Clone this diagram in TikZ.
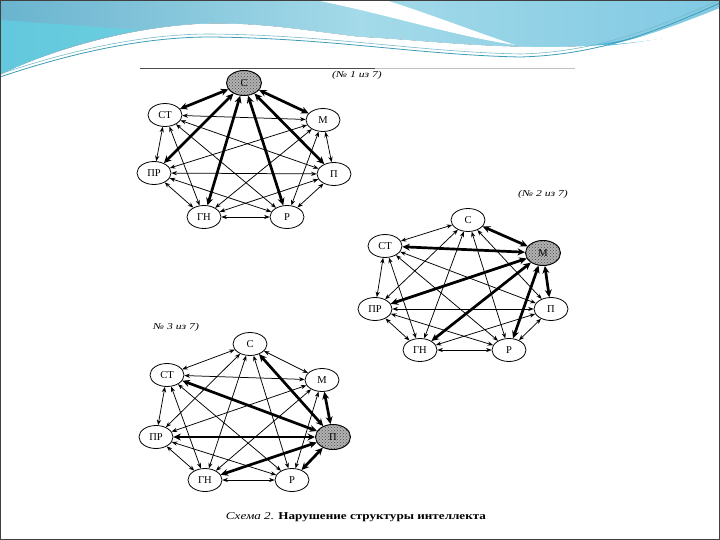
\documentclass[tikz,border=0pt]{standalone}
\usepackage{fontspec}
\setmainfont{Liberation Serif}
\usepackage{graphicx}
\usetikzlibrary{shapes.geometric,arrows.meta,patterns}
\definecolor{bandA}{HTML}{6AB4CF}
\definecolor{bandB}{HTML}{A4DAE9}
\definecolor{bandC}{HTML}{80C9E3}
\definecolor{cyanL}{HTML}{5ED6E6}
\definecolor{tealL}{HTML}{3C9DB4}
\definecolor{brightB}{HTML}{4DB6DC}
\begin{document}
\begin{tikzpicture}[x=1pt,y=-1pt,
 vx/.style={ellipse,draw,line width=0.8pt,fill=white,minimum width=34pt,minimum height=23pt,inner sep=0pt,font=\fontsize{10.5}{11}\selectfont},
 hub/.style={fill=gray!60,postaction={pattern=crosshatch dots,pattern color=black!70},line width=1pt,minimum width=35pt,minimum height=25pt},
 te/.style={<->,line width=0.75pt,>={Stealth[length=5.5pt,width=4.2pt]}},
 tk/.style={<->,line width=2.7pt,>={Stealth[length=7.5pt,width=7pt]}},
 lbl/.style={font=\itshape\fontsize{9}{10}\selectfont}]
\useasboundingbox (0,0) rectangle (720,540);
\fill[white] (0,0) rectangle (720,540);
% top band
\fill[left color=bandA,right color=bandC,middle color=bandB]
 (0,0) -- (720,0) -- (720,23) .. controls (680,35) and (640,45) .. (560,47)
 .. controls (480,48) and (420,40) .. (360,37) .. controls (300,30) and (260,22) .. (200,24)
 .. controls (120,28) and (40,55) .. (0,75) -- cycle;
\fill[cyanL,opacity=0.6] (0,75) .. controls (40,55) and (90,38) .. (140,30) -- (0,20) -- cycle;
\fill[white] (315,0) -- (385,0) .. controls (430,14) and (470,30) .. (515,45)
 .. controls (450,35) and (390,15) .. (315,0) -- cycle;
\fill[brightB] (540,50) .. controls (620,46) and (680,28) .. (720,10) -- (720,24)
 .. controls (680,36) and (630,47) .. (540,50) -- cycle;
\fill[white] (0,78) .. controls (80,50) and (150,35) .. (210,35) .. controls (330,36) and (420,52) .. (520,55)
 .. controls (600,55) and (660,32) .. (720,8) -- (720,26) .. controls (680,36) and (640,45) .. (560,47)
 .. controls (480,48) and (420,40) .. (360,37) .. controls (300,30) and (260,22) .. (200,24)
 .. controls (120,28) and (40,55) .. (0,75) -- cycle;
\draw[tealL,line width=0.8pt] (0,77) .. controls (80,50) and (150,37) .. (210,37) .. controls (330,38) and (420,55) .. (520,57) .. controls (600,55) and (660,30) .. (720,3);
\draw[tealL!70,line width=0.6pt] (0,74) .. controls (80,47) and (150,34) .. (210,34) .. controls (330,35) and (420,52) .. (520,54) .. controls (600,52) and (660,26) .. (720,0);
% slide border
\draw[black!75,line width=1.2pt] (0.6,0.6) rectangle (719.4,539.4);
% page top rule
\draw[black!70,line width=0.6pt] (140,68) -- (375,68);
\draw[black!25,line width=0.6pt] (375,68) -- (575,68);

% ---------- graph 1 ----------
\node[lbl,xscale=1.3] (l1) at (357,75) {(№ 1 из 7)};
\node[vx,hub] (aC) at (244,83) {С};
\node[vx] (aST) at (165,115) {СТ};
\node[vx] (aM) at (323,120) {М};
\node[vx] (aPR) at (154,173) {ПР};
\node[vx] (aP) at (334,174) {П};
\node[vx] (aGN) at (204,217) {ГН};
\node[vx] (aR) at (287,217) {Р};
\foreach \u/\v in {aST/aM,aST/aPR,aST/aP,aST/aGN,aST/aR,aM/aPR,aM/aP,aM/aGN,aM/aR,aPR/aP,aPR/aGN,aPR/aR,aP/aGN,aP/aR,aGN/aR}
  \draw[te] (\u) -- (\v);
\foreach \v in {aST,aM,aPR,aP,aGN,aR}
  \draw[tk] (aC) -- (\v);

% ---------- graph 2 ----------
\node[lbl,xscale=1.3] (l2) at (543,194) {(№ 2 из 7)};
\node[vx] (bC) at (468,220) {С};
\node[vx] (bST) at (385,246) {СТ};
\node[vx,hub] (bM) at (543,253) {М};
\node[vx] (bPR) at (375,309) {ПР};
\node[vx] (bP) at (551,309) {П};
\node[vx] (bGN) at (420,350) {ГН};
\node[vx] (bR) at (509,350) {Р};
\foreach \u/\v in {bC/bST,bC/bPR,bC/bP,bC/bGN,bC/bR,bST/bPR,bST/bP,bST/bGN,bST/bR,bPR/bP,bPR/bGN,bPR/bR,bP/bGN,bP/bR,bGN/bR}
  \draw[te] (\u) -- (\v);
\foreach \v in {bC,bST,bPR,bP,bGN,bR}
  \draw[tk] (bM) -- (\v);

% ---------- graph 3 ----------
\node[lbl,xscale=1.3] (l3) at (176,327) {№ 3 из 7)};
\node[vx] (cC) at (250,344) {С};
\node[vx] (cST) at (167,375) {СТ};
\node[vx] (cM) at (322,380) {М};
\node[vx] (cPR) at (156,437) {ПР};
\node[vx,hub] (cP) at (333,437) {П};
\node[vx] (cGN) at (205,480) {ГН};
\node[vx] (cR) at (292,480) {Р};
\foreach \u/\v in {cC/cST,cC/cM,cC/cPR,cC/cGN,cC/cR,cST/cM,cST/cPR,cST/cGN,cST/cR,cM/cPR,cM/cGN,cM/cR,cPR/cGN,cPR/cR,cGN/cR}
  \draw[te] (\u) -- (\v);
\foreach \v in {cC,cST,cM,cPR,cGN,cR}
  \draw[tk] (cP) -- (\v);

% caption
\node (cap) at (356,517) {\scalebox{1.25}[1]{\fontsize{10.5}{12}\selectfont\textit{Схема 2.} \textbf{Нарушение структуры интеллекта}}};
\end{tikzpicture}
\end{document}
